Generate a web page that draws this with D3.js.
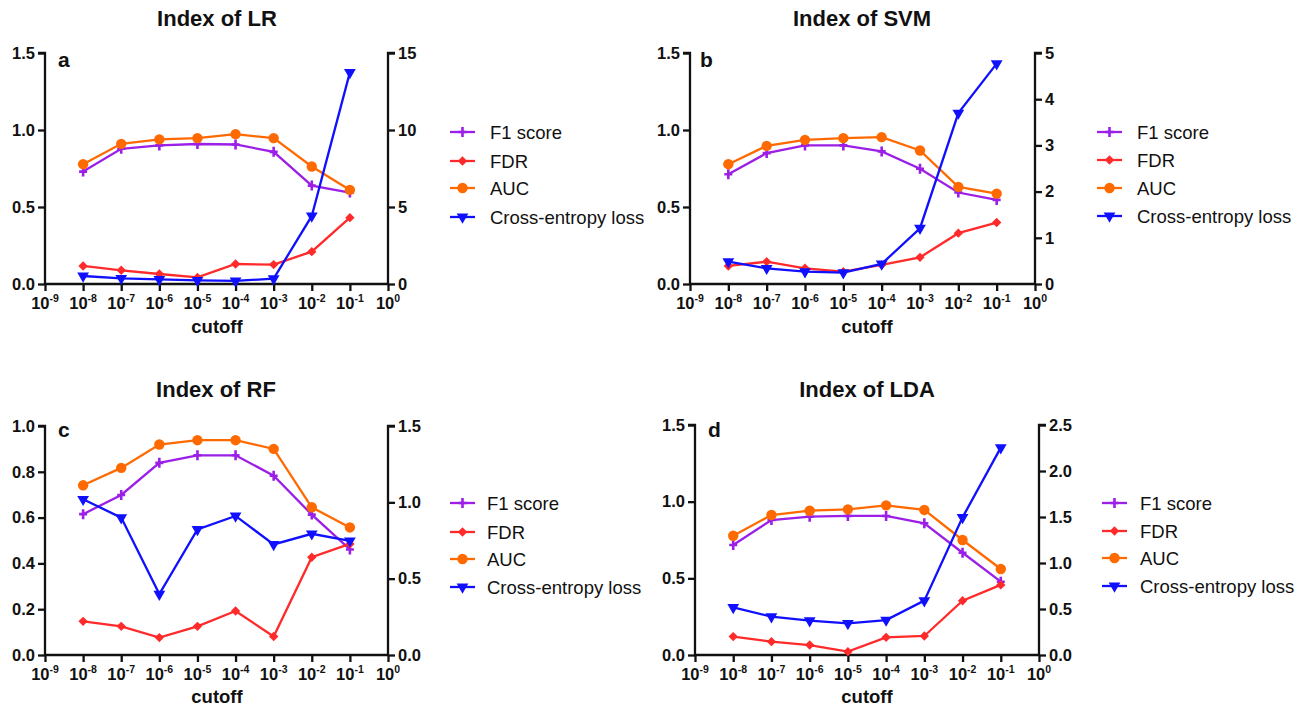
<!DOCTYPE html>
<html>
<head>
<meta charset="utf-8">
<script src="https://cdn.jsdelivr.net/npm/d3@7"></script>
<style>
  html, body { margin: 0; padding: 0; background: #fff; }
  svg { display: block; font-family: "Liberation Sans", Arial, sans-serif; }
</style>
</head>
<body>
<svg id="chart" width="1314" height="708"></svg>
<script>
// ---- Data ----
const cutoffs = [1e-8, 1e-7, 1e-6, 1e-5, 1e-4, 1e-3, 1e-2, 1e-1];
const xTickValues = [1e-9, 1e-8, 1e-7, 1e-6, 1e-5, 1e-4, 1e-3, 1e-2, 1e-1, 1e0];
const xTickExponents = ["-9", "-8", "-7", "-6", "-5", "-4", "-3", "-2", "-1", "0"];
const seriesNames = ["F1 score", "FDR", "AUC", "Cross-entropy loss"];

const titles = ["Index of LR", "Index of SVM", "Index of RF", "Index of LDA"];
const letters = ["a", "b", "c", "d"];

// LR
const lrF1   = [0.730, 0.878, 0.900, 0.909, 0.906, 0.858, 0.639, 0.594];
const lrFDR  = [0.117, 0.089, 0.065, 0.043, 0.130, 0.126, 0.210, 0.431];
const lrAUC  = [0.778, 0.910, 0.939, 0.947, 0.973, 0.947, 0.763, 0.611];
const lrLoss = [0.52, 0.37, 0.30, 0.24, 0.20, 0.35, 4.42, 13.74];
// SVM
const svmF1   = [0.713, 0.850, 0.900, 0.900, 0.861, 0.748, 0.594, 0.546];
const svmFDR  = [0.117, 0.145, 0.102, 0.080, 0.124, 0.173, 0.330, 0.399];
const svmAUC  = [0.778, 0.897, 0.936, 0.947, 0.954, 0.867, 0.631, 0.587];
const svmLoss = [0.484, 0.340, 0.267, 0.246, 0.434, 1.207, 3.700, 4.770];
// RF
const rfF1   = [0.615, 0.699, 0.839, 0.872, 0.872, 0.783, 0.613, 0.461];
const rfFDR  = [0.147, 0.125, 0.076, 0.125, 0.192, 0.081, 0.427, 0.485];
const rfAUC  = [0.741, 0.817, 0.919, 0.938, 0.938, 0.900, 0.645, 0.557];
const rfLoss = [1.020, 0.900, 0.399, 0.822, 0.911, 0.724, 0.794, 0.748];
// LDA
const ldaF1   = [0.717, 0.880, 0.902, 0.907, 0.907, 0.859, 0.667, 0.478];
const ldaFDR  = [0.120, 0.087, 0.065, 0.022, 0.115, 0.124, 0.354, 0.457];
const ldaAUC  = [0.778, 0.913, 0.941, 0.950, 0.976, 0.946, 0.750, 0.561];
const ldaLoss = [0.518, 0.417, 0.373, 0.344, 0.380, 0.591, 1.496, 2.254];

// Left/right axis tick values
const leftTicksA = [0, 0.5, 1.0, 1.5];
const rightTicksA = [0, 5, 10, 15];
const rightTicksB = [0, 1, 2, 3, 4, 5];
const leftTicksC = [0, 0.2, 0.4, 0.6, 0.8, 1.0];
const rightTicksC = [0, 0.5, 1.0, 1.5];
const rightTicksD = [0, 0.5, 1.0, 1.5, 2.0, 2.5];

// ---- Layout / style ----
const colors = ["#9b1fe6", "#ff2a2a", "#ff6a00", "#1010ff"];
const panels = [
  { x0: 45, x1: 388, yTop: 53, yBot: 284, left: leftTicksA, lfmt: d3.format(".1f"), right: rightTicksA, rfmt: d3.format("d"),
    data: [lrF1, lrFDR, lrAUC, lrLoss], titleX: 217, titleY: 26, letterX: 58, letterY: 67,
    legX: 450, legTextX: 490, legY: [132, 161, 188, 217] },
  { x0: 690, x1: 1035, yTop: 53, yBot: 284, left: leftTicksA, lfmt: d3.format(".1f"), right: rightTicksB, rfmt: d3.format("d"),
    data: [svmF1, svmFDR, svmAUC, svmLoss], titleX: 862, titleY: 26, letterX: 700, letterY: 67,
    legX: 1097, legTextX: 1137, legY: [132, 160, 188, 216] },
  { x0: 45, x1: 388, yTop: 426, yBot: 655, left: leftTicksC, lfmt: d3.format(".1f"), right: rightTicksC, rfmt: d3.format(".1f"),
    data: [rfF1, rfFDR, rfAUC, rfLoss], titleX: 216, titleY: 397, letterX: 58, letterY: 437,
    legX: 450, legTextX: 487, legY: [503, 532, 559, 587] },
  { x0: 695, x1: 1039, yTop: 425, yBot: 655, left: leftTicksA, lfmt: d3.format(".1f"), right: rightTicksD, rfmt: d3.format(".1f"),
    data: [ldaF1, ldaFDR, ldaAUC, ldaLoss], titleX: 867, titleY: 397, letterX: 708, letterY: 437,
    legX: 1102, legTextX: 1140, legY: [503, 531, 558, 586] }
];

const svg = d3.select("#chart");

function drawMarker(g, type, x, y, color) {
  if (type === 0) {
    g.append("path").attr("d", `M${x - 4},${y}H${x + 4}M${x},${y - 5}V${y + 5}`)
      .attr("stroke", color).attr("stroke-width", 2.6).attr("fill", "none");
  } else if (type === 1) {
    g.append("path").attr("d", d3.symbol(d3.symbolSquare, 44)())
      .attr("transform", `translate(${x},${y}) rotate(45)`).attr("fill", color);
  } else if (type === 2) {
    g.append("circle").attr("cx", x).attr("cy", y).attr("r", 5.2).attr("fill", color);
  } else {
    g.append("path").attr("d", d3.symbol(d3.symbolTriangle, 60)())
      .attr("transform", `translate(${x},${y}) rotate(180)`).attr("fill", color);
  }
}

panels.forEach((p, pi) => {
  const g = svg.append("g");
  const x = d3.scaleLog().domain([1e-9, 1]).range([p.x0, p.x1]);
  const yL = d3.scaleLinear().domain([0, d3.max(p.left)]).range([p.yBot, p.yTop]);
  const yR = d3.scaleLinear().domain([0, d3.max(p.right)]).range([p.yBot, p.yTop]);

  g.append("text").attr("x", p.titleX).attr("y", p.titleY).attr("text-anchor", "middle")
    .attr("font-size", 22).attr("font-weight", "bold").attr("fill", "#111").text(titles[pi]);

  const la = g.append("g").attr("transform", `translate(${p.x0},0)`)
    .call(d3.axisLeft(yL).tickValues(p.left).tickFormat(p.lfmt).tickSize(7).tickPadding(3));
  const ra = g.append("g").attr("transform", `translate(${p.x1},0)`)
    .call(d3.axisRight(yR).tickValues(p.right).tickFormat(p.rfmt).tickSize(7).tickPadding(3));
  const ba = g.append("g").attr("transform", `translate(0,${p.yBot})`)
    .call(d3.axisBottom(x).tickValues(xTickValues).tickFormat(() => "").tickSize(7));

  [la, ra, ba].forEach(a => {
    a.select(".domain").attr("stroke", "#111").attr("stroke-width", 2.3);
    a.selectAll(".tick line").attr("stroke", "#111").attr("stroke-width", 2.3);
    a.selectAll(".tick text").attr("font-size", 16.5).attr("font-weight", "bold")
      .attr("fill", "#111").attr("font-family", "Liberation Sans, Arial, sans-serif");
  });
  la.select(".domain").attr("d", `M-7,${p.yTop}H0V${p.yBot}`);
  ra.select(".domain").attr("d", `M7,${p.yTop}H0V${p.yBot}`);
  ba.select(".domain").attr("d", `M${p.x0},0H${p.x1}`);

  xTickValues.forEach((v, i) => {
    const t = g.append("text").attr("x", x(v)).attr("y", p.yBot + 25)
      .attr("text-anchor", "middle").attr("font-size", 16.5).attr("font-weight", "bold").attr("fill", "#111");
    t.append("tspan").text("10");
    t.append("tspan").attr("font-size", 10.5).attr("dy", -7).text(xTickExponents[i]);
  });

  g.append("text").attr("x", 217 + (pi % 2 === 1 ? 650 : 0)).attr("y", pi < 2 ? 333 : 703)
    .attr("text-anchor", "middle").attr("font-size", 18.5).attr("font-weight", "bold").attr("fill", "#111").text("cutoff");

  g.append("text").attr("x", p.letterX).attr("y", p.letterY)
    .attr("font-size", 21).attr("font-weight", "bold").attr("fill", "#111").text(letters[pi]);

  p.data.forEach((vals, si) => {
    const ys = si === 3 ? yR : yL;
    const line = d3.line().x((d, i) => x(cutoffs[i])).y(d => ys(d));
    g.append("path").datum(vals).attr("d", line).attr("fill", "none")
      .attr("stroke", colors[si]).attr("stroke-width", 2.3);
    vals.forEach((v, i) => drawMarker(g, si, x(cutoffs[i]), ys(v), colors[si]));
  });

  seriesNames.forEach((name, si) => {
    const ly = p.legY[si];
    g.append("line").attr("x1", p.legX).attr("x2", p.legX + 25).attr("y1", ly).attr("y2", ly)
      .attr("stroke", colors[si]).attr("stroke-width", 2.3);
    drawMarker(g, si, p.legX + 12.5, ly, colors[si]);
    g.append("text").attr("x", p.legTextX).attr("y", ly).attr("dy", "0.36em")
      .attr("font-size", 18.5).attr("fill", "#111").text(name);
  });
});
</script>
</body>
</html>
